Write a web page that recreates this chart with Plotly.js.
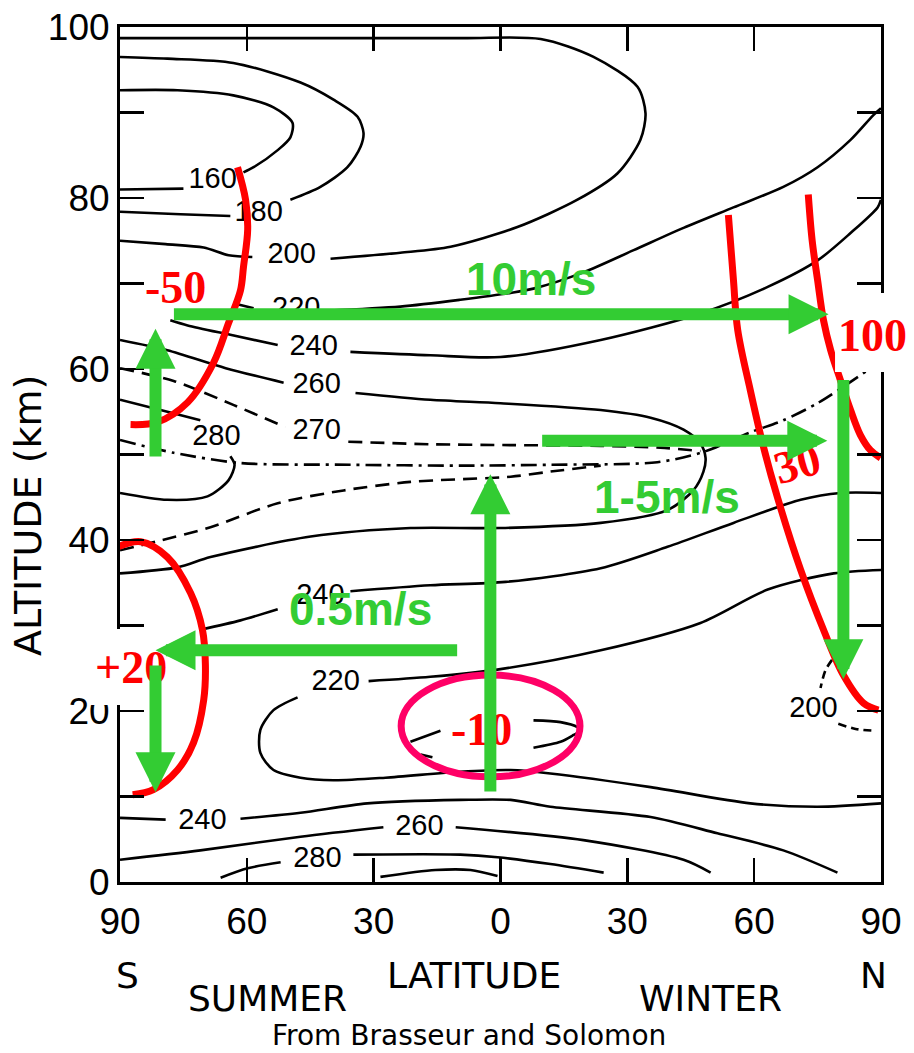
<!DOCTYPE html>
<html>
<head>
<meta charset="utf-8">
<script src="https://cdn.plot.ly/plotly-3.0.1.min.js"></script>
<style>html,body{margin:0;padding:0;background:#fff;}#chart{width:914px;height:1053px;}</style>
</head>
<body>
<div id="chart"></div>
<script>
// ---- axis ticks ----
const latTicks = [-90, -60, -30, 0, 30, 60, 90];
const latTickText = ['90', '60', '30', '0', '30', '60', '90'];
const altTicks = [0, 20, 40, 60, 80, 100];
const altMinorTicks = [10, 30, 50, 70, 90];

// ---- temperature isolines (latitude deg, S negative; altitude km) ----
const c160Lat = [-90, -76.4, -63.2, -53.7, -49.2, -49.7, -52.7, -58.4, -60.8, null, -75.0, -90];
const c160Alt = [92.6, 92.6, 92.0, 90.6, 88.8, 87.1, 85.6, 83.6, 83.0, null, 81.1, 81.0];
const c180Lat = [-90, -78.8, -63.2, -47.3, -39.5, -33.8, -32.4, -33.1, -36.2, -42.6, -49.7, null, -63.9, -75.7, -90];
const c180Alt = [96.5, 96.3, 95.8, 93.5, 91.5, 89.5, 87.6, 86.0, 83.6, 81.3, 79.8, null, 77.9, 78.1, 78.4];
const c200Lat = [-90, -9.5, 9.5, 22.0, 32.4, 34.3, 33.1, 27.7, 18.2, 4.0, -11.8, -23.7, -40.2, null, -58.7, -64.3, -70.2, -79.2, -90];
const c200Alt = [98.7, 98.7, 98.6, 96.5, 93.0, 89.9, 86.8, 82.9, 79.8, 76.6, 74.3, 73.6, 72.9, null, 73.1, 73.3, 74.2, 74.6, 75.0];
const c220aLat = [-63.2, -58.4, null, -41.4, -23.7, -9.5, 2.4, 7.8, 19.6, 31.5, 43.3, 55.1, 66.9, 75.0, 82.8, 88.2, 90];
const c220aAlt = [67.7, 67.1, null, 66.8, 67.3, 68.1, 68.9, 69.4, 71.3, 73.9, 76.5, 78.9, 81.3, 83.6, 86.8, 89.7, 90.5];
const c240aLat = [-78.1, -74.0, -63.9, -52.7, null, -35.5, -16.6, 0, 23.7, 47.3, 63.2, 75.0, 82.8, 89.2, 90];
const c240aAlt = [65.7, 65.1, 64.0, 62.8, null, 62.0, 61.6, 61.4, 63.4, 66.5, 69.6, 72.7, 75.9, 78.9, 79.8];
const c260Lat = [-90, -78.8, -65.0, -51.3, null, -34.3, -16.6, 0, 23.7, 35.5, 43.3, 47.3, 48.5, 48.0, 45.6, 39.5, 23.7, 0, -21.3, -44.9, -68.6, -76.4, -90];
const c260Alt = [63.4, 62.2, 60.1, 58.4, null, 57.2, 56.4, 56.0, 55.2, 54.3, 52.9, 51.3, 49.6, 48.0, 45.8, 43.5, 42.0, 41.4, 41.4, 40.4, 38.0, 36.8, 36.1];
const c270aLat = [-90, -77.3, -63.2, -50.9, null, -36.0, -16.6, 2.4, 23.7, 37.8, 47.3];
const c270aAlt = [60.1, 58.6, 55.8, 53.2, null, 51.5, 51.2, 51.1, 51.0, 50.8, 50.4];
const c270bLat = [-90, -81.6, -68.6, -52.7, -37.1, -21.3, 2.4, 11.8, 23.7];
const c270bAlt = [38.8, 39.8, 41.5, 44.3, 45.8, 46.8, 47.4, 48.0, 48.7];
const stratopauseLat = [-90, -77.3, -61.5, -35.5, -9.5, 11.8, 37.1, 48.0, 59.1, 66.9, 75.0, 87.0];
const stratopauseAlt = [51.7, 50.2, 49.0, 48.8, 48.7, 48.8, 49.1, 50.3, 52.6, 54.0, 56.0, 59.9];
const c280aLat = [-90, -80.4, -71.0, null, -63.9, -62.9, -64.3, -69.3, -78.8, -90];
const c280aAlt = [56.4, 55.2, 54.0, null, 49.8, 48.8, 47.0, 45.1, 44.7, 45.5];
const c240bLat = [-71.0, -61.5, -52.7, null, -35.5, -16.6, 1.2, 23.7, 39.5, 55.1, 71.0, 80.4, 90];
const c240bAlt = [29.5, 30.6, 31.9, null, 34.0, 34.7, 35.1, 36.7, 39.2, 42.0, 44.7, 45.5, 45.5];
const c220bLat = [90, 78.8, 63.2, 47.3, 23.7, 0, -16.6, -31.2, null, -48.0, -53.7, -56.8, -56.8, -53.7, -47.3, -39.5, -27.2, -9.5, 2.4, 11.8, 35.5, 59.1, 75.0, 90];
const c220bAlt = [36.5, 36.1, 34.2, 30.3, 27.1, 24.9, 24.0, 23.5, null, 21.6, 20.1, 17.8, 15.1, 13.1, 12.2, 11.9, 12.2, 12.9, 13.1, 12.7, 11.1, 9.2, 8.8, 9.2];
const c240cLat = [-90, -79.2, null, -61.5, -47.3, -31.5, -9.5, 2.4, 11.8, 35.5, 51.3, 66.9, 79.7];
const c240cAlt = [7.5, 7.3, null, 7.4, 8.1, 9.2, 9.6, 9.6, 8.8, 7.6, 5.7, 3.7, 1.1];
const c260cLat = [-90, -71.0, -47.3, -27.7, null, -10.6, 19.6, 43.3, 49.7];
const c260cAlt = [2.6, 3.7, 5.3, 6.4, null, 6.4, 4.9, 2.6, 1.1];
const c280cLat = [-66.2, -59.8, -52.0, null, -34.8, -9.5, -0.7, 11.8, 24.4];
const c280cAlt = [0.5, 1.6, 2.3, null, 3.2, 3.2, 2.9, 2.1, 1.1];
const c290Lat = [-28.4, -15.4, -7.1, -0.7];
const c290Alt = [0.6, 1.4, 1.4, 0.7];
const coldCoreLat = [-21.3, -14.2, null, -18.9, -16.1, null, 7.8, 14.2, 18.2, 18.9, 17.3, 14.2, 7.8];
const coldCoreAlt = [16.4, 17.7, null, 14.9, 14.6, null, 18.9, 18.7, 18.1, 17.7, 17.2, 16.4, 15.7];
const c200nLat = [82.3, 79.2, 76.9, 75.7, null, 79.9, 84.0, 88.2];
const c200nAlt = [28.3, 26.5, 24.8, 22.7, null, 18.5, 17.9, 17.7];

// isoline labels
const isoLabelText = ['160', '180', '200', '220', '240', '260', '270', '280', '240', '220', '240', '260', '280', '200'];
const isoLabelLat = [-68.1, -57.2, -49.4, -48.3, -44.2, -43.5, -43.5, -67.2, -42.6, -39.0, -70.5, -19.2, -43.3, 74.0];
const isoLabelAlt = [82.0, 78.2, 73.2, 66.9, 62.5, 58.0, 52.7, 52.0, 33.4, 23.3, 7.0, 6.3, 2.6, 20.2];

// ---- zonal wind isolines (red) ----
const windS50Lat = [-62.2, -60.3, -59.8, -60.8, -61.5, -64.3, -67.9, -74.0, -81.1, -87.5];
const windS50Alt = [83.6, 79.8, 76.3, 71.9, 69.2, 65.4, 60.7, 56.1, 53.8, 53.5];
const windS20Lat = [-90.5, -85.1, -78.8, -73.3, -70.5, -69.8, -70.2, -72.6, -76.4, -82.1, -87.0];
const windS20Alt = [39.2, 39.8, 38.0, 33.8, 29.5, 25.4, 21.3, 16.3, 13.1, 10.8, 10.2];
const windN30Lat = [53.9, 55.1, 56.1, 59.1, 62.2, 65.5, 71.0, 76.4, 81.1, 85.9, 89.4];
const windN30Alt = [78.0, 70.4, 64.6, 57.5, 50.9, 45.0, 36.5, 29.5, 24.2, 20.9, 20.1];
const windN100Lat = [72.8, 73.7, 75.0, 76.4, 78.1, 80.4, 82.8, 85.1, 87.5, 89.9];
const windN100Alt = [80.4, 75.1, 70.4, 65.7, 62.2, 58.7, 55.2, 52.3, 50.5, 49.6];
const windLabels = ['-50', '100', '30', '+20', '-10'];
const windLabelLat = [-76.9, 88.0, 70.2, -87.3, -4.5];
const windLabelAlt = [69.5, 63.9, 49.0, 25.1, 17.8];
const windLabelAngle = [0, 0, -15, 0, 0];

// tropical tropopause cold pocket (ellipse bounds)
const coldPocketLat = [-23.5, 18.8];
const coldPocketAlt = [12.3, 24.2];

// ---- circulation arrows (green) ----
const flowFromLat = [-77.6, 9.5, -9.9, -2.4, -81.6, -81.6, 81.1];
const flowFromAlt = [66.4, 51.6, 27.1, 10.4, 49.6, 25.5, 58.9];
const flowToLat = [77.6, 77.3, -81.6, -2.4, -81.6, -81.6, 81.1];
const flowToAlt = [66.4, 51.6, 27.1, 47.7, 64.7, 10.5, 23.7];
const flowLabels = ['10m/s', '1-5m/s', '0.5m/s'];
const flowLabelLat = [7.1, 39.3, -33.1];
const flowLabelAlt = [70.5, 45.0, 31.9];

// ---- build traces ----
function iso(lat, alt, dash) {
  return {x: lat, y: alt, type: 'scatter', mode: 'lines', hoverinfo: 'skip',
    line: {color: '#000', width: 2.6, dash: dash || 'solid', shape: 'spline', smoothing: 0.8},
    connectgaps: false, showlegend: false};
}
function wind(lat, alt) {
  return {x: lat, y: alt, type: 'scatter', mode: 'lines', hoverinfo: 'skip',
    line: {color: '#ff0000', width: 7, shape: 'spline', smoothing: 1}, showlegend: false};
}
const traces = [
  iso(c160Lat, c160Alt), iso(c180Lat, c180Alt), iso(c200Lat, c200Alt),
  iso(c220aLat, c220aAlt), iso(c240aLat, c240aAlt), iso(c260Lat, c260Alt),
  iso(c270aLat, c270aAlt, '14px,8px'), iso(c270bLat, c270bAlt, '14px,8px'),
  iso(stratopauseLat, stratopauseAlt, '16px,6px,3px,6px'),
  iso(c280aLat, c280aAlt), iso(c240bLat, c240bAlt), iso(c220bLat, c220bAlt),
  iso(c240cLat, c240cAlt), iso(c260cLat, c260cAlt), iso(c280cLat, c280cAlt),
  iso(c290Lat, c290Alt), iso(coldCoreLat, coldCoreAlt), iso(c200nLat, c200nAlt, '8px,5px'),
  {x: isoLabelLat, y: isoLabelAlt, text: isoLabelText, type: 'scatter', mode: 'text',
   textposition: 'middle center', hoverinfo: 'skip', showlegend: false,
   textfont: {family: 'Liberation Sans', size: 29, color: '#000'}},
  wind(windS50Lat, windS50Alt), wind(windS20Lat, windS20Alt),
  wind(windN30Lat, windN30Alt), wind(windN100Lat, windN100Alt)
];

// ---- annotations ----
const ann = [];
windLabels.forEach((t, i) => ann.push({
  x: windLabelLat[i], y: windLabelAlt[i], xref: 'x', yref: 'y', text: t, showarrow: false,
  xanchor: 'center', yanchor: 'middle', textangle: windLabelAngle[i],
  font: {family: 'Liberation Serif', size: 46, color: '#ff0000', weight: 'bold'}
}));
flowLabels.forEach((t, i) => ann.push({
  x: flowLabelLat[i], y: flowLabelAlt[i], xref: 'x', yref: 'y', text: t, showarrow: false,
  xanchor: 'center', yanchor: 'middle',
  font: {family: 'Liberation Sans', size: 46, color: '#33cc33', weight: 'bold'}
}));
flowToLat.forEach((v, i) => ann.push({
  x: flowToLat[i], y: flowToAlt[i], ax: flowFromLat[i], ay: flowFromAlt[i],
  xref: 'x', yref: 'y', axref: 'x', ayref: 'y', text: '', showarrow: true,
  arrowhead: 2, arrowsize: 0.667, arrowwidth: 12, arrowcolor: '#33cc33',
  standoff: 0, startstandoff: 0, font: {size: 2}
}));
const textFont = {family: 'DejaVu Sans', size: 36, color: '#000'};
const bottomText = [
  ['S', 0.0105, -0.1099], ['N', 0.9895, -0.1088], ['LATITUDE', 0.4652, -0.1088],
  ['SUMMER', 0.1932, -0.1368], ['WINTER', 0.7766, -0.1368]
];
bottomText.forEach(b => ann.push({x: b[1], y: b[2], xref: 'paper', yref: 'paper', text: b[0],
  xanchor: 'center', yanchor: 'middle', showarrow: false, font: textFont}));
ann.push({x: 0.4586, y: -0.1801, xref: 'paper', yref: 'paper', text: 'From Brasseur and Solomon',
  xanchor: 'center', yanchor: 'middle', showarrow: false,
  font: {family: 'DejaVu Sans', size: 28, color: '#000'}});
ann.push({x: -0.1209, y: 0.4292, xref: 'paper', yref: 'paper', text: 'ALTITUDE (km)', textangle: -90,
  xanchor: 'center', yanchor: 'middle', showarrow: false,
  font: {family: 'DejaVu Sans', size: 38, color: '#000'}});

const axisCommon = {
  ticks: 'inside', ticklen: 24, tickwidth: 2.5, tickcolor: '#000',
  showline: true, linecolor: '#000', linewidth: 3, mirror: 'ticks',
  showgrid: false, zeroline: false, fixedrange: true,
  tickfont: {family: 'Liberation Sans', size: 37, color: '#000'}
};

const layout = {
  width: 914, height: 1053,
  margin: {l: 120, r: 33, t: 27, b: 171, pad: 0},
  paper_bgcolor: '#fff', plot_bgcolor: '#fff', showlegend: false,
  xaxis: Object.assign({}, axisCommon, {range: [-90, 90], tickmode: 'array', tickvals: latTicks,
    ticktext: latTickText, ticklabelstandoff: 5}),
  yaxis: Object.assign({}, axisCommon, {range: [0, 100], tickmode: 'array', tickvals: altTicks,
    minor: {tickmode: 'array', tickvals: altMinorTicks, ticks: 'inside', ticklen: 24, tickwidth: 2.5, tickcolor: '#000'}}),
  shapes: [
    {type: 'circle', xref: 'x', yref: 'y', x0: coldPocketLat[0], x1: coldPocketLat[1],
     y0: coldPocketAlt[0], y1: coldPocketAlt[1], line: {color: '#ff0066', width: 7}},
    {type: 'rect', xref: 'paper', yref: 'paper', x0: -0.042, x1: 0.0368, y0: 0.207, y1: 0.296,
     fillcolor: '#fff', line: {width: 0}, layer: 'above'},
    {type: 'rect', xref: 'paper', yref: 'paper', x0: 0.9396, x1: 1.0434, y0: 0.5965, y1: 0.6889,
     fillcolor: '#fff', line: {width: 0}, layer: 'above'}
  ],
  annotations: ann
};

Plotly.newPlot('chart', traces, layout, {staticPlot: true, displayModeBar: false});
</script>
</body>
</html>
